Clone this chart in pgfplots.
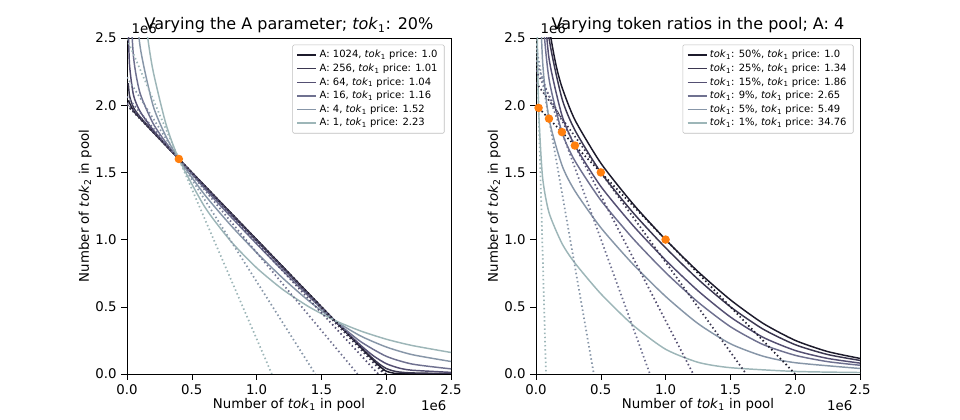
\documentclass[border=0pt]{standalone}
\usepackage{pgfplots}
\pgfplotsset{compat=1.18}
\usepackage{fontspec}
\setmainfont{DejaVu Sans}
\newcommand{\tk}{\textit{tok}\textsubscript{1}}
\newcommand{\tkk}{\textit{tok}\textsubscript{2}}
\definecolor{c1}{HTML}{1C1A2B}
\definecolor{c2}{HTML}{3B3750}
\definecolor{c3}{HTML}{544F72}
\definecolor{c4}{HTML}{6F7190}
\definecolor{c5}{HTML}{8796A8}
\definecolor{c6}{HTML}{9DB6B8}
\definecolor{orng}{HTML}{FF7F0E}
\pgfplotsset{
  base/.style={scale only axis, width=243pt, height=252pt,
    xmin=0,xmax=2.5,ymin=0,ymax=2.5,
    xtick={0,0.5,1,1.5,2,2.5}, ytick={0,0.5,1,1.5,2,2.5},
    xticklabels={0.0,0.5,1.0,1.5,2.0,2.5}, yticklabels={0.0,0.5,1.0,1.5,2.0,2.5},
    xtick pos=bottom, ytick pos=left,
    tick align=outside, tick style={black}, ticklabel style={font=\fontsize{10}{12}\selectfont},
    /pgf/number format/assume math mode=true,
    xlabel={Number of \tk{} in pool}, ylabel={Number of \tkk{} in pool},
    label style={font=\fontsize{10}{12}\selectfont},
    title style={font=\fontsize{12}{14}\selectfont, yshift=-6pt},
    legend style={font=\fontsize{7.5}{9}\selectfont, at={(0.98,0.98)}, anchor=north east, draw=black!25, rounded corners=1pt, row sep=-1pt},
    legend cell align=left,
    legend image code/.code={\draw[line width=1.1pt] (0cm,0cm) -- (0.5cm,0cm);},
    every axis plot/.append style={line width=1.1pt},
    xlabel style={yshift=4pt}, ylabel style={yshift=-4pt}},
  tg/.style={dotted, line width=1.3pt, forget plot},
  cv/.style={smooth, tension=0.4}
}
\begin{document}
\begin{tikzpicture}
\path (0,0) rectangle (720pt,315pt);
\begin{axis}[base, at={(95.25pt,34.5pt)}, anchor=south west,
  title={Varying the A parameter; \tk: 20\%}]
\addplot[c1,cv] coordinates {(0.01,2.036)(0.05,1.958)(0.1,1.904)(0.2,1.801)(0.3,1.700)(0.4,1.6)(0.6,1.400)(0.8,1.200)(1.0,1.000)(1.2,0.800)(1.4,0.600)(1.6,0.4)(1.8,0.201)(1.9,0.103)(1.95,0.057)(2.0,0.021)(2.05,0.008)(2.1,0.004)(2.5,0.001)};
\addlegendentry{A: 1024, \tk{} price: 1.0}
\addplot[c2,cv] coordinates {(0.01,2.164)(0.02,2.068)(0.05,1.983)(0.1,1.914)(0.2,1.805)(0.3,1.702)(0.4,1.6)(0.6,1.399)(0.8,1.198)(1.0,0.999)(1.2,0.798)(1.4,0.597)(1.6,0.4)(1.8,0.205)(1.9,0.112)(1.95,0.072)(2.0,0.041)(2.05,0.024)(2.1,0.015)(2.2,0.008)(2.5,0.003)};
\addlegendentry{A: 256, \tk{} price: 1.01}
\addplot[c3,cv] coordinates {(0.01,2.567)(0.02,2.293)(0.05,2.075)(0.1,1.955)(0.2,1.818)(0.3,1.706)(0.4,1.6)(0.6,1.394)(0.8,1.192)(1.0,0.992)(1.2,0.792)(1.4,0.595)(1.6,0.4)(1.8,0.216)(1.9,0.136)(2.0,0.077)(2.1,0.044)(2.2,0.028)(2.5,0.012)};
\addlegendentry{A: 64, \tk{} price: 1.04}
\addplot[c4,cv] coordinates {(0.01,3.57)(0.02,2.911)(0.05,2.362)(0.1,2.092)(0.2,1.867)(0.3,1.722)(0.4,1.6)(0.6,1.379)(0.8,1.171)(1.0,0.968)(1.2,0.771)(1.4,0.580)(1.6,0.4)(1.8,0.243)(2.0,0.132)(2.2,0.074)(2.5,0.038)};
\addlegendentry{A: 16, \tk{} price: 1.16}
\addplot[c5,cv] coordinates {(0.02,4.20)(0.03,3.62)(0.05,3.033)(0.1,2.444)(0.2,2.001)(0.3,1.769)(0.4,1.6)(0.6,1.333)(0.8,1.107)(1.0,0.903)(1.2,0.715)(1.4,0.546)(1.6,0.4)(1.8,0.284)(2.0,0.201)(2.2,0.144)(2.5,0.093)};
\addlegendentry{A: 4, \tk{} price: 1.52}
\addplot[c6,cv] coordinates {(0.02,6.41)(0.05,4.21)(0.1,3.089)(0.15,2.577)(0.2,2.261)(0.3,1.862)(0.4,1.6)(0.6,1.243)(0.8,0.989)(1.0,0.790)(1.2,0.630)(1.4,0.502)(1.6,0.4)(1.8,0.321)(2.0,0.259)(2.2,0.212)(2.5,0.160)};
\addlegendentry{A: 1, \tk{} price: 2.23}
\addplot[tg,c1] coordinates {(0,2.0)(2.0,0)};
\addplot[tg,c2] coordinates {(0,2.004)(1.984,0)};
\addplot[tg,c3] coordinates {(0,2.016)(1.9385,0)};
\addplot[tg,c4] coordinates {(0,2.064)(1.779,0)};
\addplot[tg,c5] coordinates {(0,2.208)(1.4526,0)};
\addplot[tg,c6] coordinates {(0,2.492)(1.1175,0)};
\addplot[only marks, mark=*, mark size=2.6pt, orng, forget plot] coordinates {(0.4,1.6)};
\end{axis}
\node[font=\fontsize{10}{12}\selectfont, anchor=south west] at (95.25pt,286.5pt) {1e6};
\node[font=\fontsize{10}{12}\selectfont, anchor=north east] at (338.25pt,18pt) {1e6};
\begin{axis}[base, at={(402pt,34.5pt)}, anchor=south west,
  title={Varying token ratios in the pool; A: 4}]
\addplot[c1,cv] coordinates {(0.05,3.24)(0.1,2.608)(0.15,2.319)(0.2,2.135)(0.3,1.891)(0.5,1.569)(0.75,1.264)(1.0,1.0)(1.25,0.762)(1.5,0.552)(1.75,0.378)(2.0,0.25)(2.25,0.167)(2.5,0.116)};
\addlegendentry{\tk: 50\%, \tk{} price: 1.0}
\addplot[c2,cv] coordinates {(0.05,3.11)(0.1,2.505)(0.2,2.051)(0.3,1.815)(0.5,1.5)(0.75,1.199)(1.0,0.939)(1.25,0.705)(1.5,0.500)(1.75,0.335)(2.0,0.218)(2.25,0.145)(2.5,0.101)};
\addlegendentry{\tk: 25\%, \tk{} price: 1.34}
\addplot[c3,cv] coordinates {(0.05,2.913)(0.1,2.351)(0.2,1.925)(0.3,1.7)(0.5,1.396)(0.75,1.103)(1.0,0.847)(1.25,0.619)(1.5,0.424)(1.75,0.274)(2.0,0.175)(2.25,0.116)(2.5,0.081)};
\addlegendentry{\tk: 15\%, \tk{} price: 1.86}
\addplot[c4,cv] coordinates {(0.02,3.75)(0.05,2.719)(0.1,2.198)(0.2,1.8)(0.3,1.586)(0.5,1.293)(0.75,1.006)(1.0,0.755)(1.25,0.535)(1.5,0.352)(1.75,0.220)(2.0,0.139)(2.25,0.092)(2.5,0.065)};
\addlegendentry{\tk: 9\%, \tk{} price: 2.65}
\addplot[c5,cv] coordinates {(0.01,4.21)(0.02,3.213)(0.05,2.342)(0.1,1.9)(0.2,1.554)(0.3,1.362)(0.5,1.089)(0.75,0.815)(1.0,0.577)(1.25,0.375)(1.5,0.225)(1.75,0.133)(2.0,0.084)(2.5,0.041)};
\addlegendentry{\tk: 5\%, \tk{} price: 5.49}
\addplot[c6,cv] coordinates {(0.005,3.39)(0.01,2.56)(0.02,1.98)(0.05,1.470)(0.1,1.202)(0.2,0.972)(0.3,0.826)(0.5,0.597)(0.75,0.362)(1.0,0.184)(1.25,0.087)(1.5,0.047)(2.0,0.019)(2.5,0.011)};
\addlegendentry{\tk: 1\%, \tk{} price: 34.76}
\addplot[tg,c1] coordinates {(0,2.0)(2.0,0)};
\addplot[tg,c2] coordinates {(0,2.169)(1.622,0)};
\addplot[tg,c3] coordinates {(0,2.259)(1.213,0)};
\addplot[tg,c4] coordinates {(0,2.33)(0.879,0)};
\addplot[tg,c5] coordinates {(0,2.449)(0.446,0)};
\addplot[tg,c6] coordinates {(0,2.675)(0.077,0)};
\addplot[only marks, mark=*, mark size=2.6pt, orng, forget plot] coordinates {(1.0,1.0)(0.5,1.5)(0.3,1.7)(0.2,1.8)(0.1,1.9)(0.02,1.98)};
\end{axis}
\node[font=\fontsize{10}{12}\selectfont, anchor=south west] at (402pt,286.5pt) {1e6};
\node[font=\fontsize{10}{12}\selectfont, anchor=north east] at (642.75pt,18pt) {1e6};
\end{tikzpicture}
\end{document}
